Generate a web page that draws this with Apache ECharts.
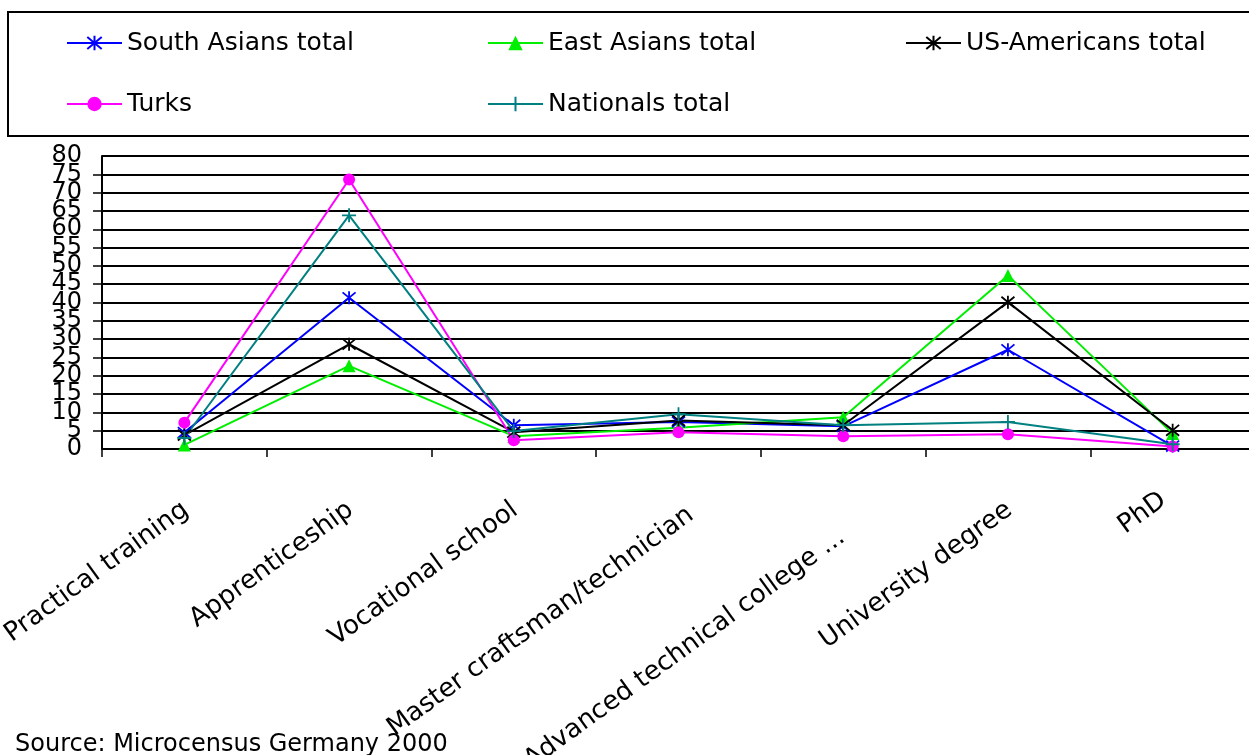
<!DOCTYPE html>
<html>
<head>
<meta charset="utf-8">
<script src="https://cdn.jsdelivr.net/npm/echarts@6/dist/echarts.min.js"></script>
<style>
html,body{margin:0;padding:0;background:#fff;}
#c{width:1249px;height:755px;}
</style>
</head>
<body>
<div id="c"></div>
<script>
const categories = ['Practical training', 'Apprenticeship', 'Vocational school', 'Master craftsman/technician', 'Advanced technical college ...', 'University degree', 'PhD'];
const yTicks = [0, 80, 5];
const southAsians = [4.5, 41.3, 6.5, 7.4, 6.2, 27.1, 0.8];
const eastAsians = [1.1, 22.7, 3.5, 5.8, 8.7, 47.4, 4.2];
const usAmericans = [3.8, 28.6, 4.6, 7.8, 6.5, 40.1, 5.1];
const turks = [7.2, 73.6, 2.4, 4.6, 3.5, 4.0, 0.7];
const nationals = [3.0, 63.8, 4.9, 9.5, 6.5, 7.4, 1.3];
const seriesNames = ['South Asians total', 'East Asians total', 'US-Americans total', 'Turks', 'Nationals total'];

const FONT = 'DejaVu Sans';
const STAR = 'path://M1,1L11,11M11,1L1,11M6,0L6,12';
const PLUS = 'path://M0,6L12,6M6,0L6,12';

// per-label padding (style): [top, right, bottom, left]
const labelPad = [[38,12,0,0],[38,12,0,0],[38,12,0,0],[59,6,0,0],[79,30,0,0],[38,12,0,0],[10,15,0,0]];
const rich = {};
labelPad.forEach((p, i) => { rich['l' + i] = {fontSize: 26, fontFamily: FONT, color: '#000', padding: p}; });

function mkSeries(name, data, color, symbol, size, stroke) {
  return {
    name: name, type: 'line', data: data, symbol: symbol, symbolSize: size,
    showSymbol: true, yAxisIndex: 0,
    lineStyle: {color: color, width: 2},
    itemStyle: stroke ? {color: color, borderColor: color, borderWidth: 1.8} : {color: color},
    emphasis: {disabled: true}
  };
}

const chart = echarts.init(document.getElementById('c'), null, {renderer: 'canvas'});
const legendCommon = {
  orient: 'vertical', top: 28, itemGap: 31, itemWidth: 55, itemHeight: 18, padding: 0,
  selectedMode: false,
  textStyle: {fontSize: 25, lineHeight: 30, color: '#000', fontFamily: FONT}
};
const yLabelStyle = {margin: 20, color: '#000', fontSize: 24, lineHeight: 12, fontFamily: FONT, hideOverlap: false};
chart.setOption({
  animation: false,
  backgroundColor: '#fff',
  textStyle: {fontFamily: FONT},
  grid: {left: 102, top: 156, width: 1153, height: 293, containLabel: false, outerBoundsMode: 'none'},
  legend: [
    Object.assign({left: 66, data: [seriesNames[0], seriesNames[3]]}, legendCommon),
    Object.assign({left: 487, data: [seriesNames[1], seriesNames[4]]}, legendCommon),
    Object.assign({left: 905, data: [seriesNames[2]]}, legendCommon)
  ],
  graphic: [
    {type: 'rect', shape: {x: 8, y: 12, width: 1260, height: 124}, style: {fill: 'none', stroke: '#000', lineWidth: 2}, silent: true},
    {type: 'text', left: 15, top: 733, style: {text: 'Source: Microcensus Germany 2000', font: '24px "DejaVu Sans"', fill: '#000'}, silent: true}
  ],
  xAxis: {
    type: 'category', data: categories, boundaryGap: true,
    axisLine: {show: true, onZero: false, lineStyle: {color: '#000', width: 2}},
    axisTick: {show: true, length: 8, lineStyle: {color: '#000', width: 1.5}},
    axisLabel: {
      interval: 0, rotate: 36, margin: 36, color: '#000', fontSize: 26, fontFamily: FONT,
      hideOverlap: false,
      formatter: function (v, i) { return '{l' + i + '|' + v + '}'; },
      rich: rich
    },
    splitLine: {show: false}
  },
  yAxis: [
    {
      type: 'value', min: yTicks[0], max: yTicks[1], interval: yTicks[2], position: 'left',
      axisLine: {show: true, lineStyle: {color: '#000', width: 2}},
      axisTick: {show: true, length: 9, lineStyle: {color: '#000', width: 1.5}},
      axisLabel: Object.assign({showMinLabel: false, showMaxLabel: false}, yLabelStyle),
      splitLine: {show: true, lineStyle: {color: '#000', width: 1.8}}
    },
    {
      type: 'value', min: yTicks[0], max: yTicks[1], interval: yTicks[2], position: 'left', offset: 0,
      axisLine: {show: false}, axisTick: {show: false}, splitLine: {show: false},
      axisLabel: Object.assign({showMinLabel: true, showMaxLabel: true,
        formatter: function (v) { return (v === yTicks[0] || v === yTicks[1]) ? String(v) : ''; }}, yLabelStyle)
    }
  ],
  series: [
    mkSeries(seriesNames[0], southAsians, '#0000FF', STAR, 13, true),
    mkSeries(seriesNames[1], eastAsians, '#00EE00', 'triangle', 13, false),
    mkSeries(seriesNames[2], usAmericans, '#000000', STAR, 13, true),
    mkSeries(seriesNames[3], turks, '#FF00FF', 'circle', 12, false),
    mkSeries(seriesNames[4], nationals, '#008080', PLUS, 14, true)
  ]
});
</script>
</body>
</html>
